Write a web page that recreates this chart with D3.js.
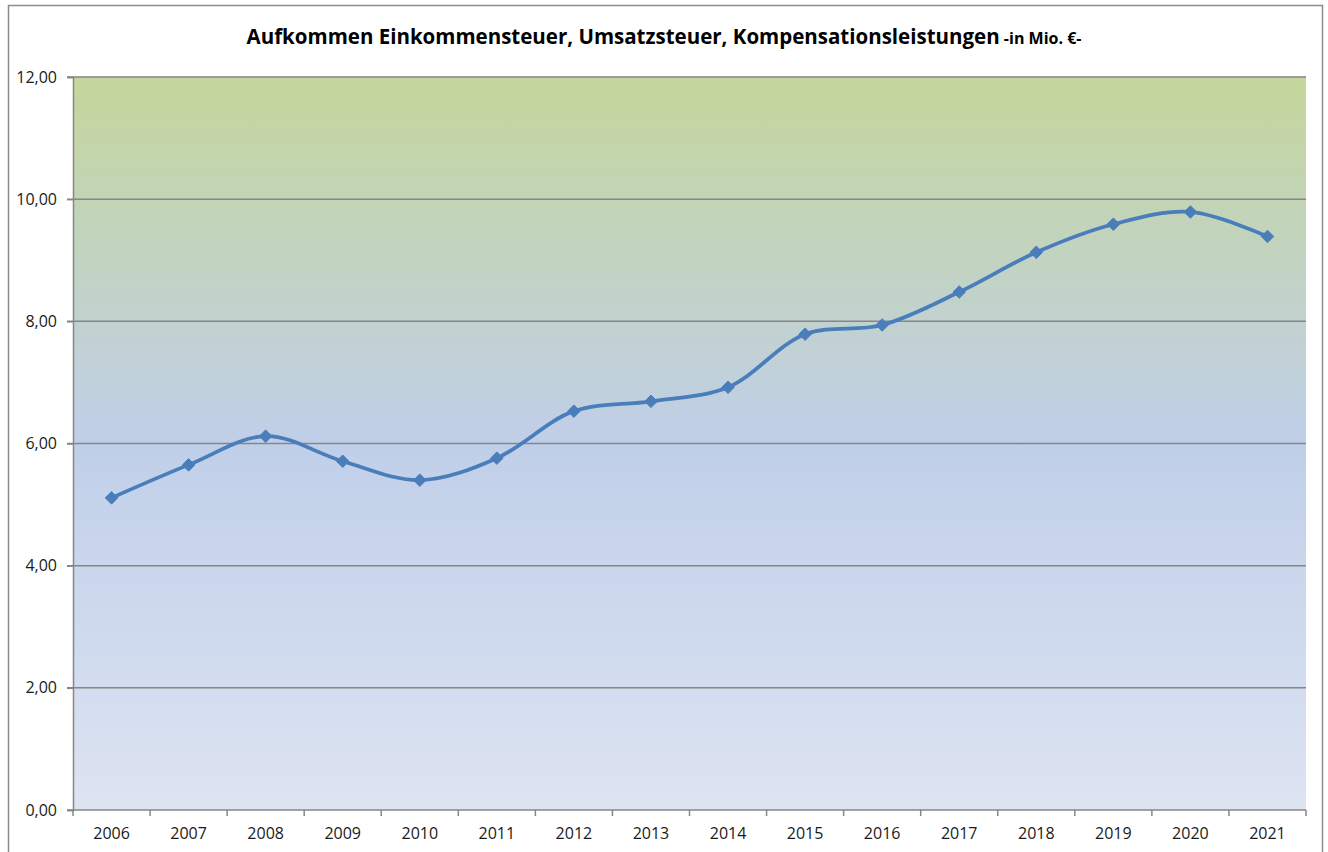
<!DOCTYPE html>
<html>
<head>
<meta charset="utf-8">
<script src="https://cdn.jsdelivr.net/npm/d3@7"></script>
<style>
  body { margin: 0; background: #fff; }
  .tick-label { font-family: 'Open Sans', sans-serif; font-size: 16px; fill: #1a1a1a; }
  .title { font-family: 'Open Sans', sans-serif; font-weight: bold; fill: #000; }
</style>
</head>
<body>
<div id="chart"></div>
<script>
'use strict';

const years = ['2006', '2007', '2008', '2009', '2010', '2011', '2012', '2013',
  '2014', '2015', '2016', '2017', '2018', '2019', '2020', '2021'];
const revenue = [5.11, 5.65, 6.12, 5.71, 5.40, 5.76, 6.53, 6.69,
  6.92, 7.79, 7.94, 8.48, 9.13, 9.59, 9.79, 9.39];
const yTicks = [0, 2, 4, 6, 8, 10, 12];
const titleMain = 'Aufkommen Einkommensteuer, Umsatzsteuer, Kompensationsleistungen';
const titleUnit = ' -in Mio. €-';

const width = 1328;
const height = 852;
const margin = {top: 77, right: 22, bottom: 42, left: 73};
const innerW = width - margin.left - margin.right;
const innerH = height - margin.top - margin.bottom;

const svg = d3.select('#chart').append('svg')
  .attr('width', width)
  .attr('height', height);

// outer chart frame
svg.append('rect')
  .attr('x', 8.5).attr('y', 5.5)
  .attr('width', 1314).attr('height', 860)
  .attr('fill', '#fff')
  .attr('stroke', '#8c8c8c')
  .attr('stroke-width', 1.5);

const defs = svg.append('defs');
const grad = defs.append('linearGradient')
  .attr('id', 'plotBg')
  .attr('x1', 0).attr('y1', 0).attr('x2', 0).attr('y2', 1);
grad.append('stop').attr('offset', '0%').attr('stop-color', '#c4d79b');
grad.append('stop').attr('offset', '50%').attr('stop-color', '#c0cfe9');
grad.append('stop').attr('offset', '100%').attr('stop-color', '#dde4f2');

const g = svg.append('g')
  .attr('transform', 'translate(' + margin.left + ',' + margin.top + ')');

const x = d3.scaleBand().domain(years).range([0, innerW]);
const y = d3.scaleLinear().domain([0, 12]).range([innerH, 0]);

g.append('rect')
  .attr('width', innerW)
  .attr('height', innerH)
  .attr('fill', 'url(#plotBg)');

// gridlines
g.selectAll('.grid')
  .data(yTicks.filter(d => d > 0))
  .enter().append('line')
  .attr('x1', -6).attr('x2', innerW)
  .attr('y1', d => y(d)).attr('y2', d => y(d))
  .attr('stroke', '#868686')
  .attr('stroke-width', 1.5);

// y axis
const yAxis = d3.axisLeft(y)
  .tickValues(yTicks)
  .tickSize(6)
  .tickPadding(10)
  .tickFormat(d => d3.format('.2f')(d).replace('.', ','));
const yG = g.append('g').call(yAxis);
yG.select('.domain').attr('stroke', '#868686').attr('stroke-width', 1.5);
yG.selectAll('.tick line').attr('stroke', '#868686').attr('stroke-width', 1.5);
yG.selectAll('.tick text').attr('class', 'tick-label');

// x axis, ticks sit between categories
const xG = g.append('g').attr('transform', 'translate(0,' + innerH + ')');
xG.append('line')
  .attr('x1', -6).attr('x2', innerW)
  .attr('stroke', '#868686').attr('stroke-width', 1.5);
xG.selectAll('.xtick')
  .data(years.concat(['end']))
  .enter().append('line')
  .attr('x1', (d, i) => i * x.step()).attr('x2', (d, i) => i * x.step())
  .attr('y1', 0).attr('y2', 6)
  .attr('stroke', '#868686').attr('stroke-width', 1.5);
xG.selectAll('.xlabel')
  .data(years)
  .enter().append('text')
  .attr('class', 'tick-label')
  .attr('x', d => x(d) + x.bandwidth() / 2)
  .attr('y', 29)
  .attr('text-anchor', 'middle')
  .text(d => d);

// series line
const pts = years.map((yr, i) => [x(yr) + x.bandwidth() / 2, y(revenue[i])]);
g.append('path')
  .datum(pts)
  .attr('fill', 'none')
  .attr('stroke', '#4a7ebb')
  .attr('stroke-width', 3.75)
  .attr('stroke-linejoin', 'round')
  .attr('d', d3.line().curve(d3.curveCatmullRom.alpha(0.5)));

g.selectAll('.marker')
  .data(pts)
  .enter().append('path')
  .attr('transform', d => 'translate(' + d[0] + ',' + d[1] + ')')
  .attr('d', d3.symbol().type(d3.symbolDiamond2).size(100))
  .attr('fill', '#4a7ebb')
  .attr('stroke', '#4a7ebb')
  .attr('stroke-width', 1);

// title
const title = svg.append('text')
  .attr('class', 'title')
  .attr('x', 664)
  .attr('y', 44)
  .attr('text-anchor', 'middle');
title.append('tspan').style('font-size', '20.5px').text(titleMain);
title.append('tspan').style('font-size', '16px').text(titleUnit);
</script>
</body>
</html>
